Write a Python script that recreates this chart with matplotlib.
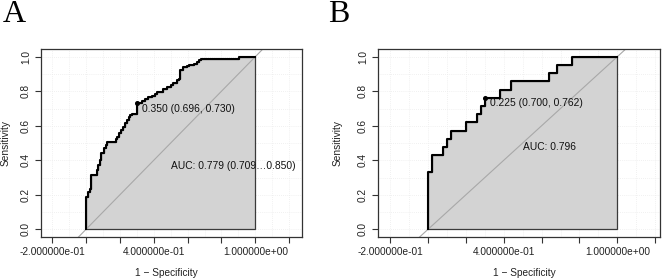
import matplotlib
matplotlib.use("Agg")
import matplotlib.pyplot as plt
import numpy as np

plt.rcParams['font.family'] = ['Liberation Sans', 'DejaVu Sans']

# ---- data (1 - specificity, sensitivity) corner points of ROC staircase ----
fpr_a = [0.0, 0.0, 0.012, 0.022, 0.031, 0.063, 0.071, 0.083, 0.091, 0.106, 0.116,
         0.122, 0.175, 0.185, 0.197, 0.205, 0.220, 0.232, 0.242, 0.252, 0.262,
         0.270, 0.304, 0.329, 0.348, 0.368, 0.388, 0.408, 0.418, 0.457, 0.477,
         0.500, 0.516, 0.536, 0.551, 0.555, 0.575, 0.598, 0.610, 0.638, 0.654,
         0.669, 0.677, 0.904, 1.0]
tpr_a = [0.0, 0.190, 0.218, 0.232, 0.315, 0.344, 0.373, 0.400, 0.440, 0.469, 0.488,
         0.508, 0.524, 0.537, 0.556, 0.575, 0.594, 0.614, 0.633, 0.652, 0.662,
         0.668, 0.730, 0.742, 0.753, 0.765, 0.772, 0.784, 0.795, 0.811, 0.824,
         0.838, 0.849, 0.863, 0.873, 0.921, 0.940, 0.946, 0.954, 0.959, 0.969,
         0.979, 0.988, 1.0, 1.0]

fpr_b = [0.0, 0.0, 0.02, 0.08, 0.10, 0.12, 0.20, 0.26, 0.28, 0.30, 0.38, 0.44,
         0.64, 0.68, 0.76, 1.0]
tpr_b = [0.0, 0.333, 0.429, 0.476, 0.524, 0.571, 0.619, 0.667, 0.714, 0.762,
         0.810, 0.857, 0.905, 0.952, 1.0, 1.0]

best_a = (0.304, 0.730)
best_b = (0.300, 0.762)
thr_label_a = "0.350 (0.696, 0.730)"
thr_label_b = "0.225 (0.700, 0.762)"
auc_label_a = "AUC: 0.779 (0.709\u20260.850)"
auc_label_b = "AUC: 0.796"

xticks = [-0.2, 0.0, 0.2, 0.4, 0.6, 0.8, 1.0, 1.2]
xticklabels = ["-2.000000e-01", "", "", "4.000000e-01", "", "", "1.000000e+00", ""]
yticks = [0.0, 0.2, 0.4, 0.6, 0.8, 1.0]
yticklabels = ["0.0", "0.2", "0.4", "0.6", "0.8", "1.0"]

W, H = 669, 280
fig = plt.figure(figsize=(W / 100, H / 100), dpi=100)

FS = 7.3
dark = '#222222'


def panel(rect, xlim, fpr, tpr, best, thr_label, thr_pos, auc_label, auc_pos):
    ax = fig.add_axes(rect)
    ax.set_xlim(*xlim)
    ax.set_ylim(-0.046, 1.043)
    # grid
    for g in np.arange(-0.2, 1.31, 0.1):
        ax.axvline(g, color='#ececec', lw=0.6, ls=(0, (1, 1.5)), zorder=0)
    for g in np.arange(0.0, 1.05, 0.1):
        ax.axhline(g, color='#ececec', lw=0.6, ls=(0, (1, 1.5)), zorder=0)
    # polygon (area under curve)
    xs, ys = [], []
    for i in range(len(fpr)):
        if i > 0:
            xs.append(fpr[i]); ys.append(tpr[i - 1])
        xs.append(fpr[i]); ys.append(tpr[i])
    px = xs + [1.0, 0.0]
    py = ys + [0.0, 0.0]
    ax.fill(px, py, facecolor='#d3d3d3', edgecolor='#3a3a3a', lw=0.9, zorder=1)
    # diagonal
    ax.axline((0, 0), slope=1, color='#a8a8a8', lw=0.8, zorder=2)
    # curve
    ax.plot(fpr, tpr, drawstyle='steps-post', color='black', lw=1.5, zorder=3)
    ax.plot([best[0]], [best[1]], 'o', color='black', ms=2.6, zorder=4)
    ax.text(thr_pos[0], thr_pos[1], thr_label, fontsize=FS + 0.1, ha='left',
            va='center', color='#111111', zorder=5)
    ax.text(auc_pos[0], auc_pos[1], auc_label, fontsize=FS + 0.1, ha='left',
            va='center', color='#111111', zorder=5)
    ax.set_xticks(xticks)
    ax.set_xticklabels(xticklabels, fontsize=FS, color=dark)
    ax.set_yticks(yticks)
    ax.set_yticklabels(yticklabels, fontsize=FS, color=dark, rotation=90,
                       va='center')
    ax.tick_params(direction='out', length=4, width=0.8, color='#333333', pad=3)
    for s in ax.spines.values():
        s.set_color('#333333')
        s.set_linewidth(0.9)
    return ax


axA = panel([40.7 / W, 1 - 237.3 / H, 261 / W, 188 / H], (-0.2676, 1.274),
            fpr_a, tpr_a, best_a, thr_label_a, (0.329, 0.695), auc_label_a,
            (0.502, 0.367))
axB = panel([377.7 / W, 1 - 237.3 / H, 282.3 / W, 188 / H], (-0.2657, 1.2256),
            fpr_b, tpr_b, best_b, thr_label_b, (0.327, 0.730), auc_label_b,
            (0.503, 0.475))

# axis titles
fig.text(166 / W, 1 - 273 / H, "1 \u2212 Specificity", fontsize=FS, ha='center',
         va='center', color=dark)
fig.text(524 / W, 1 - 273 / H, "1 \u2212 Specificity", fontsize=FS, ha='center',
         va='center', color=dark)
fig.text(6 / W, 1 - 143 / H, "Sensitivity", fontsize=FS, ha='center',
         va='center', rotation=90, color=dark)
fig.text(338 / W, 1 - 143 / H, "Sensitivity", fontsize=FS, ha='center',
         va='center', rotation=90, color=dark)

# panel letters
fig.text(3 / W, 1 - 15 / H, "A", fontsize=23, family='Liberation Serif',
         ha='left', va='center', color='black')
fig.text(328 / W, 1 - 15 / H, "B", fontsize=23, family='Liberation Serif',
         ha='left', va='center', color='black')

fig.savefig("out.png", dpi=100, facecolor='white')
